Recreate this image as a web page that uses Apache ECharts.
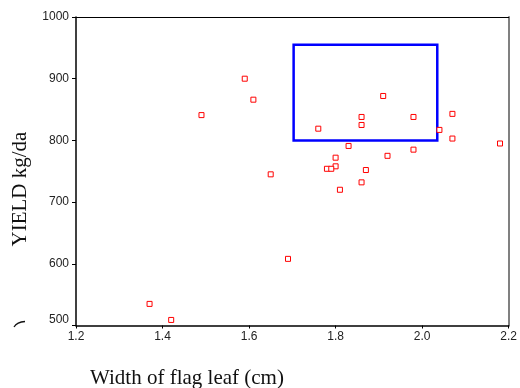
<!DOCTYPE html>
<html>
<head>
<meta charset="utf-8">
<script src="https://cdn.jsdelivr.net/npm/echarts@6/dist/echarts.min.js"></script>
<style>
  html, body { margin: 0; padding: 0; background: #fff; }
  #chart { width: 520px; height: 388px; }
</style>
</head>
<body>
<div id="chart"></div>
<script>
// Flag leaf width (cm) against grain yield (kg/da)
const leafWidth = [1.49, 1.59, 1.61, 1.91, 1.86, 1.98, 2.07, 1.86, 1.76, 2.04, 2.07, 2.18, 1.83,
                   1.98, 1.80, 1.92, 1.80, 1.78, 1.79, 1.87, 1.65, 1.86, 1.81, 1.37, 1.42, 1.69];
const yieldKg   = [841, 900, 866, 872, 838, 838, 843, 825, 819, 817, 803, 795, 791,
                   785, 772, 775, 758, 754, 754, 752, 745, 732, 720, 535, 509, 608];

// Highlighted region: [xFrom, xTo] and [yFrom, yTo]
const boxX = [1.703, 2.035];
const boxY = [800, 955];

const xTicks = { min: 1.2, max: 2.2, step: 0.2 };
const yTicks = { min: 500, max: 1000, step: 100 };

const points = leafWidth.map((w, i) => [w, yieldKg[i]]);

const chart = echarts.init(document.getElementById('chart'));
const labelStyle = { fontFamily: 'Liberation Sans, Arial, sans-serif', fontSize: 12, color: '#222' };

chart.setOption({
  backgroundColor: '#fff',
  animation: false,
  grid: { left: 76, top: 17, right: 9.5, bottom: 62.5 },
  xAxis: [{
    type: 'value', min: xTicks.min, max: xTicks.max, interval: xTicks.step,
    axisLine: { lineStyle: { color: '#000', width: 1.5 } },
    axisTick: { show: true, inside: false, length: 3, lineStyle: { color: '#000', width: 1 } },
    axisLabel: Object.assign({ margin: 5, formatter: v => v.toFixed(1) }, labelStyle),
    splitLine: { show: false }
  }, {
    type: 'value', position: 'top', min: xTicks.min, max: xTicks.max,
    axisLine: { show: true, lineStyle: { color: '#000', width: 1 } },
    axisTick: { show: false }, axisLabel: { show: false }, splitLine: { show: false }
  }],
  yAxis: [{
    type: 'value', min: yTicks.min, max: yTicks.max, interval: yTicks.step,
    axisLine: { show: true, lineStyle: { color: '#000', width: 1.5 } },
    axisTick: { show: true, inside: false, length: 4, lineStyle: { color: '#000', width: 1 } },
    axisLabel: Object.assign({ margin: 7, verticalAlignMinLabel: 'bottom', formatter: v => String(v) }, labelStyle),
    splitLine: { show: false }
  }, {
    type: 'value', position: 'right', min: yTicks.min, max: yTicks.max,
    axisLine: { show: true, lineStyle: { color: '#808080', width: 2 } },
    axisTick: { show: false }, axisLabel: { show: false }, splitLine: { show: false }
  }],
  series: [{
    type: 'scatter',
    xAxisIndex: 0, yAxisIndex: 0,
    data: points,
    symbol: 'rect',
    symbolSize: 5,
    itemStyle: { color: '#fff', borderColor: '#ff0000', borderWidth: 1, opacity: 1 },
    markArea: {
      silent: true,
      itemStyle: { color: 'rgba(0,0,0,0)', borderColor: '#0000ff', borderWidth: 2.5 },
      data: [[{ coord: [boxX[0], boxY[1]] }, { coord: [boxX[1], boxY[0]] }]]
    }
  }],
  graphic: [
    {
      type: 'text', x: 20, y: 189, rotation: Math.PI / 2,
      style: {
        text: 'YIELD kg/da', align: 'center', verticalAlign: 'middle',
        font: '21px "Liberation Serif", "Times New Roman", serif', fill: '#111'
      }
    },
    {
      type: 'text', x: 187, y: 378,
      style: {
        text: 'Width of flag leaf (cm)', align: 'center', verticalAlign: 'middle',
        font: '21px "Liberation Serif", "Times New Roman", serif', fill: '#111'
      }
    },
    {
      type: 'bezierCurve',
      shape: { x1: 14, y1: 327, x2: 25, y2: 321.5, cpx1: 17, cpy1: 322 },
      style: { stroke: '#111', lineWidth: 1.3, fill: null }
    }
  ]
});
</script>
</body>
</html>
